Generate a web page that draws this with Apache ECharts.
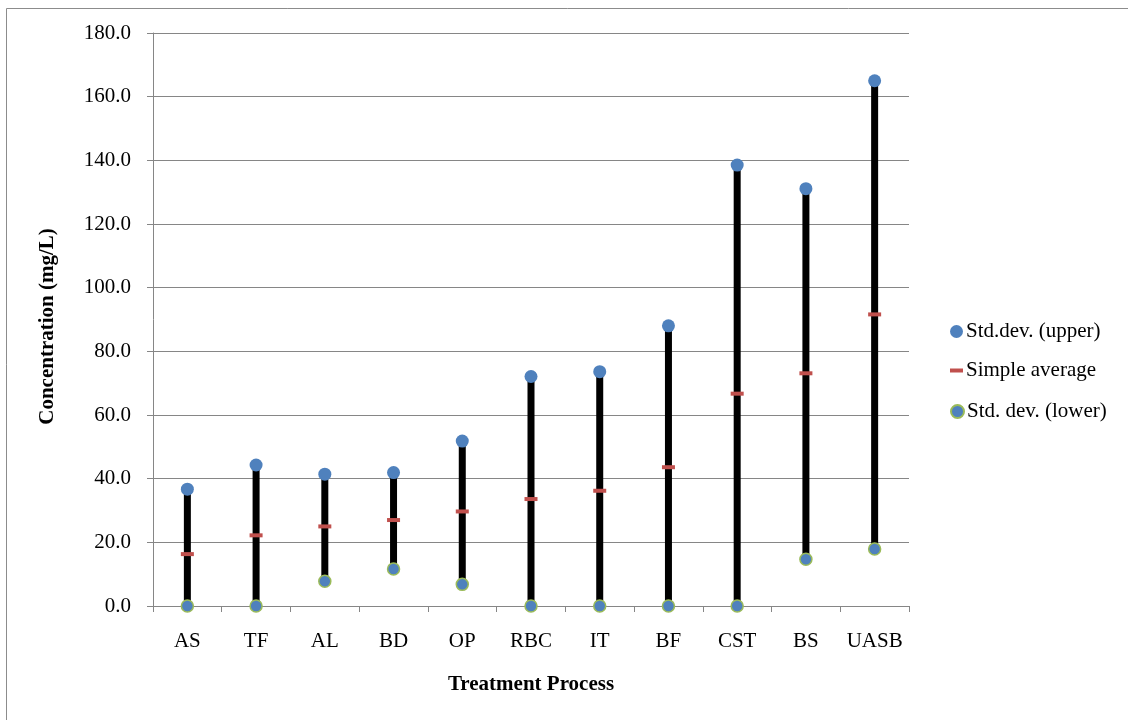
<!DOCTYPE html>
<html>
<head>
<meta charset="utf-8">
<script src="https://cdn.jsdelivr.net/npm/echarts@6/dist/echarts.min.js"></script>
<style>
html,body{margin:0;padding:0;background:#fff;}
#chart{width:1128px;height:720px;}
</style>
</head>
<body>
<div id="chart"></div>
<script>
var categories = ['AS','TF','AL','BD','OP','RBC','IT','BF','CST','BS','UASB'];
var upperValues = [36.7, 44.3, 41.4, 41.9, 51.8, 72.1, 73.6, 88.0, 138.5, 131.1, 165.0];
var averageValues = [16.3, 22.2, 25.0, 27.0, 29.7, 33.6, 36.2, 43.6, 66.7, 73.1, 91.6];
var lowerValues = [0, 0, 7.8, 11.6, 6.8, 0, 0, 0, 0, 14.7, 17.9];
var yTicks = [0, 20, 40, 60, 80, 100, 120, 140, 160, 180];

var FONT = '"Liberation Serif", "Times New Roman", serif';
var AXIS_GRAY = '#868686';

var rangeData = categories.map(function (c, i) { return [i, lowerValues[i], upperValues[i]]; });

var chart = echarts.init(document.getElementById('chart'));
var legendBase = {
  orient: 'vertical', left: 945, itemWidth: 13, itemHeight: 13,
  textStyle: { fontFamily: FONT, fontSize: 21, color: '#000', padding: [0, 0, 0, -2] },
  selectedMode: false
};
chart.setOption({
  animation: false,
  backgroundColor: '#fff',
  graphic: [{
    type: 'rect', silent: true,
    shape: { x: 6.5, y: 8.5, width: 1130, height: 720 },
    style: { fill: 'none', stroke: '#8c8c8c', lineWidth: 1 }
  }],
  legend: [
    Object.assign({}, legendBase, { top: 316, data: [{ name: 'Std.dev. (upper)', icon: 'circle' }] }),
    Object.assign({}, legendBase, { top: 355, itemHeight: 4, data: [{ name: 'Simple average', icon: 'rect' }] }),
    Object.assign({}, legendBase, { top: 396, data: [{ name: 'Std. dev. (lower)', icon: 'circle' }] })
  ],
  grid: { left: 153, top: 33, right: 219, bottom: 114, containLabel: false },
  xAxis: {
    type: 'category', data: categories, boundaryGap: true,
    name: 'Treatment Process', nameLocation: 'middle', nameGap: 68,
    nameTextStyle: { fontFamily: FONT, fontSize: 21, fontWeight: 'bold', color: '#000' },
    axisLine: { lineStyle: { color: AXIS_GRAY, width: 1 } },
    axisTick: { show: true, alignWithLabel: false, length: 6, lineStyle: { color: AXIS_GRAY } },
    axisLabel: { fontFamily: FONT, fontSize: 21, color: '#000', margin: 25, interval: 0 },
    splitLine: { show: false }
  },
  yAxis: {
    type: 'value', min: 0, max: 180, interval: 20,
    name: 'Concentration (mg/L)', nameLocation: 'middle', nameGap: 95, nameRotate: 90,
    nameTextStyle: { fontFamily: FONT, fontSize: 21, fontWeight: 'bold', color: '#000', padding: [0, 14, 0, 0] },
    axisLine: { show: true, lineStyle: { color: AXIS_GRAY, width: 1 } },
    axisTick: { show: true, length: 6, lineStyle: { color: AXIS_GRAY } },
    axisLabel: { fontFamily: FONT, fontSize: 21, color: '#000', margin: 22,
      formatter: function (v) { return v.toFixed(1); } },
    splitLine: { show: true, lineStyle: { color: AXIS_GRAY, width: 1 } }
  },
  series: [
    {
      type: 'custom', name: 'range', silent: true, z: 2,
      data: rangeData,
      encode: { x: 0, y: [1, 2] },
      renderItem: function (params, api) {
        var lo = api.coord([api.value(0), api.value(1)]);
        var hi = api.coord([api.value(0), api.value(2)]);
        return { type: 'line', shape: { x1: lo[0], y1: lo[1], x2: hi[0], y2: hi[1] },
          style: { stroke: '#000', lineWidth: 7 } };
      }
    },
    {
      type: 'scatter', name: 'Simple average', data: averageValues, z: 3,
      symbol: 'rect', symbolSize: [13, 4],
      itemStyle: { color: '#C0504D', opacity: 1 }
    },
    {
      type: 'scatter', name: 'Std.dev. (upper)', data: upperValues, z: 4,
      symbol: 'circle', symbolSize: 13,
      itemStyle: { color: '#4F81BD', opacity: 1 }
    },
    {
      type: 'scatter', name: 'Std. dev. (lower)', data: lowerValues, z: 4,
      symbol: 'circle', symbolSize: 12,
      itemStyle: { color: '#4F81BD', borderColor: '#9BBB59', borderWidth: 1.5, opacity: 1 }
    }
  ]
});
</script>
</body>
</html>
